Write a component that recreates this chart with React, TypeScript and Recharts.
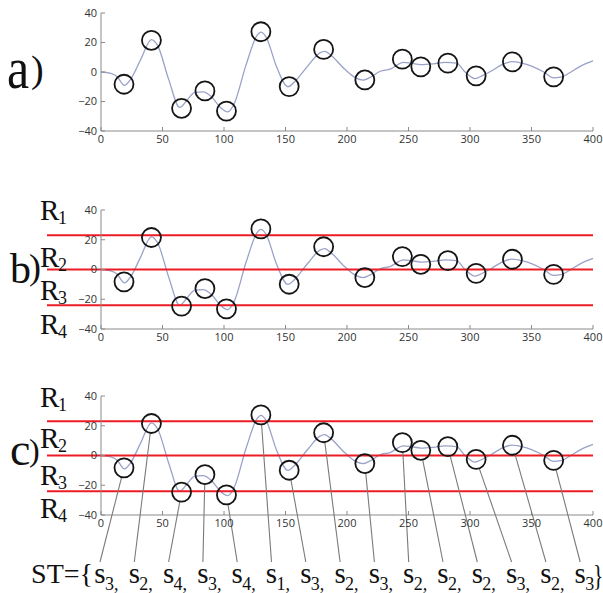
import React from "react";
import { ComposedChart, Line, Scatter, XAxis, YAxis, ReferenceLine } from "recharts";

// signal trace (sample index -> amplitude)
const curveX = [0, 8, 13, 19, 24, 32, 41, 46, 55, 64, 70, 76, 83, 90, 97, 103, 108, 118, 127, 130, 134, 143, 152, 157, 168, 178, 182, 186, 198, 207, 213, 218, 227, 235, 246, 252, 260, 270, 280, 289, 296, 304, 310, 317, 326, 334, 342, 350, 360, 368, 374, 380, 390, 400];
const curveY = [0, -1, -3, -9, -5, 8, 22, 18, -5, -24, -19, -14, -13.5, -17, -24, -27, -22, 5, 25, 27, 24, 3, -10, -7, 4, 13, 14, 12, 2, -4, -5.5, -4, 0.5, 2, 6.5, 6, 5, 5.5, 6.5, 6, 0, -4.5, -2.5, 0.5, 5, 7, 6, 4, 0, -4, -3.5, -1, 4, 7.5];

// circled extrema
const peakX = [18.7, 41, 65.5, 84.5, 102, 130, 153, 181, 214.5, 245, 260, 282, 305, 334.5, 368];
const peakY = [-8.3, 21.5, -24.6, -12.8, -26.5, 27.3, -9.9, 15.3, -5.4, 8.7, 3.5, 6, -2.6, 6.9, -3.3];

// symbol of each extremum
const stateSeq = [3, 2, 4, 3, 4, 1, 3, 2, 3, 2, 2, 2, 3, 2, 3];

const thresholds = [23, 0, -24];
const regionNames = ["1", "2", "3", "4"];
const xTicks = [0, 50, 100, 150, 200, 250, 300, 350, 400];
const yTicks = [-40, -20, 0, 20, 40];

const lineData = curveX.map((x, i) => ({ x, y: curveY[i] }));
const peakData = peakX.map((x, i) => ({ x, y: peakY[i], i }));

const FRAME = "#8a8a8a";
const SERIF = "Liberation Serif, Times New Roman, serif";
const R = 9.5;

const labelX = (i: number) => 100 + 34.3 * i;
const fmt = (v: number) => (v < 0 ? `\u2212${-v}` : `${v}`);

const makeCircle = (linkY: number | null) => (props: any) => {
  const { cx, cy, payload } = props;
  let link = null;
  if (linkY !== null) {
    const ex = labelX(payload.i);
    const dx = ex - cx;
    const dy = linkY - cy;
    const d = Math.hypot(dx, dy);
    link = (
      <line x1={cx + (dx / d) * R} y1={cy + (dy / d) * R} x2={ex} y2={linkY} stroke="#7a7a7a" strokeWidth={1.1} />
    );
  }
  return (
    <g>
      {link}
      <circle cx={cx} cy={cy} r={R} fill="none" stroke="#151515" strokeWidth={1.8} />
    </g>
  );
};

const redLine = (props: any) => (
  <line x1={props.x1 - 54} y1={props.y1} x2={props.x2} y2={props.y2} stroke="#ec1c24" strokeWidth={2} />
);

type PanelProps = { top: number; height: number; mt: number; mb: number; bands?: boolean; linkY?: number | null };

function Panel({ top, height, mt, mb, bands = false, linkY = null }: PanelProps) {
  const tickStyle = { fill: "#333", fontSize: 11, fontFamily: "Open Sans, sans-serif" };
  return (
    <div style={{ position: "absolute", left: 0, top }}>
      <ComposedChart width={603} height={height} margin={{ top: mt, right: 10, bottom: mb, left: 0 }}>
        <XAxis
          dataKey="x"
          type="number"
          domain={[0, 400]}
          ticks={xTicks}
          interval={0}
          height={20}
          tickSize={-4}
          tickMargin={8}
          axisLine={{ stroke: FRAME }}
          tickLine={{ stroke: FRAME }}
          tick={tickStyle}
        />
        <XAxis
          xAxisId="top"
          orientation="top"
          type="number"
          domain={[0, 400]}
          ticks={xTicks}
          interval={0}
          height={0}
          tickSize={-4}
          tick={false}
          axisLine={{ stroke: FRAME }}
          tickLine={{ stroke: FRAME }}
        />
        <YAxis
          type="number"
          domain={[-40, 40]}
          ticks={yTicks}
          interval={0}
          width={101}
          tickSize={-4}
          tickMargin={8}
          tickFormatter={fmt}
          axisLine={{ stroke: FRAME }}
          tickLine={{ stroke: FRAME }}
          tick={tickStyle}
        />
        <YAxis
          yAxisId="right"
          orientation="right"
          type="number"
          domain={[-40, 40]}
          ticks={yTicks}
          interval={0}
          width={0}
          tickSize={-4}
          tick={false}
          axisLine={{ stroke: FRAME }}
          tickLine={{ stroke: FRAME }}
        />
        <Line
          data={lineData}
          dataKey="y"
          type="monotone"
          stroke="#9aa2c8"
          strokeWidth={1.3}
          dot={false}
          isAnimationActive={false}
        />
        {bands &&
          thresholds.map((t) => <ReferenceLine key={t} y={t} shape={redLine} />)}
        <Scatter data={peakData} dataKey="y" shape={makeCircle(linkY)} isAnimationActive={false} />
      </ComposedChart>
    </div>
  );
}

function RLabels({ baselines }: { baselines: number[] }) {
  return (
    <>
      {baselines.map((b, k) => (
        <text key={k} x={40} y={b} fontFamily={SERIF} fontSize={29} fill="#111">
          R
          <tspan x={58} y={b + 4} fontSize={18}>
            {regionNames[k]}
          </tspan>
        </text>
      ))}
    </>
  );
}

export default function App() {
  return (
    <div style={{ position: "absolute", left: 0, top: 0, width: 603, height: 593, background: "#fff" }}>
      <Panel top={0} height={160} mt={13} mb={9} />
      <Panel top={180} height={175} mt={30} mb={6} bands />
      <Panel top={360} height={233} mt={36} mb={58} bands linkY={202} />
      <svg width={603} height={593} style={{ position: "absolute", left: 0, top: 0, pointerEvents: "none" }}>
        <text transform="translate(7,88) scale(1,1.2)" fontFamily={SERIF} fontSize={50} fill="#111">a</text>
        <text x={31} y={82} fontFamily={SERIF} fontSize={38} fill="#111">)</text>
        <text x={10} y={283} fontFamily={SERIF} fontSize={42} fill="#111">b</text>
        <text x={29} y={279} fontFamily={SERIF} fontSize={36} fill="#111">)</text>
        <text x={10} y={465} fontFamily={SERIF} fontSize={46} fill="#111">c</text>
        <text x={29} y={461} fontFamily={SERIF} fontSize={32} fill="#111">)</text>
        <RLabels baselines={[220, 267, 300, 334]} />
        <RLabels baselines={[407, 448, 485, 518]} />
        <text x={93} y={583} textAnchor="end" fontFamily={SERIF} fontSize={28} fill="#111">ST={"{"}</text>
        {stateSeq.map((s, i) => (
          <g key={i}>
            <text x={labelX(i)} y={583} textAnchor="middle" fontFamily={SERIF} fontSize={29} fill="#111">s</text>
            <text x={labelX(i) + 5} y={590} fontFamily={SERIF} fontSize={18} fill="#111">
              {i < stateSeq.length - 1 ? `${s},` : `${s}`}
            </text>
          </g>
        ))}
        <text transform="translate(593,585) scale(0.72,1)" fontFamily={SERIF} fontSize={30} fill="#111">{"}"}</text>
      </svg>
    </div>
  );
}
